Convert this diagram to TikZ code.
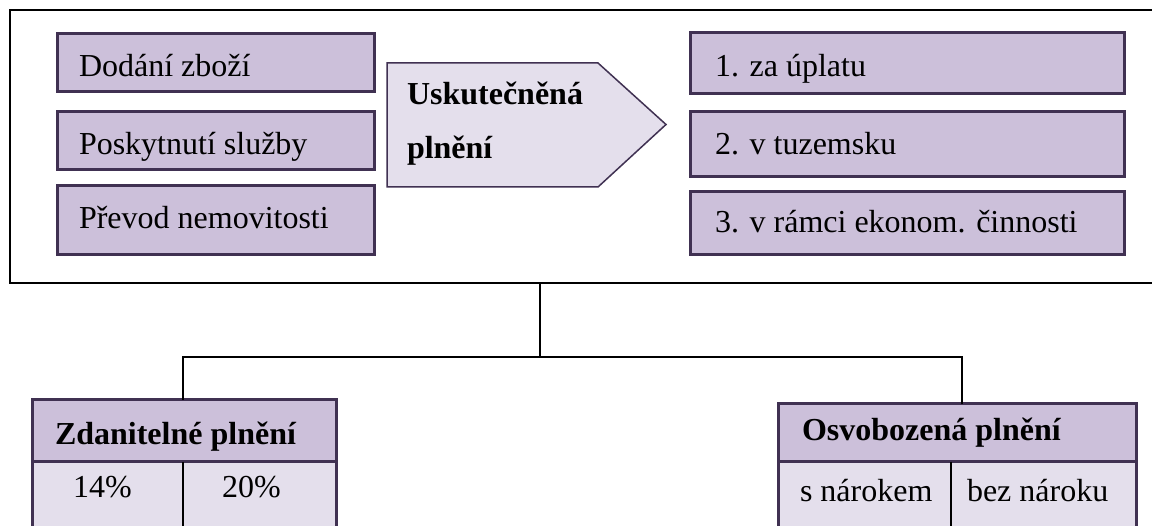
\documentclass[tikz,border=0pt]{standalone}
\usepackage{fontspec}
\setmainfont{Liberation Serif}
\definecolor{lav}{HTML}{CCC0DA}
\definecolor{lavlight}{HTML}{E4DFEC}
\definecolor{dpurple}{HTML}{403152}
\begin{document}
\begin{tikzpicture}[x=1pt,y=-1pt,
  every node/.style={inner sep=0pt, outer sep=0pt},
  txt/.style={font=\fontsize{32}{38}\selectfont, anchor=base west, text=black},
  btxt/.style={font=\fontsize{32}{38}\selectfont\bfseries, anchor=base west, text=black},
  itembox/.style={rectangle, draw=dpurple, fill=lav, line width=3pt},
  headbox/.style={rectangle, draw=dpurple, fill=lav, line width=3pt},
  bodybox/.style={rectangle, draw=dpurple, fill=lavlight, line width=3pt},
  arrowbox/.style={draw=dpurple, fill=lavlight, line width=1.5pt, line join=miter},
  framebox/.style={rectangle, draw=black, line width=2pt},
  conn/.style={draw=black, line width=2pt},
  divider/.style={draw=black, line width=1.5pt}]
\useasboundingbox (0,0) rectangle (1152,526);
\clip (0,0) rectangle (1152,526);
\fill[white] (0,0) rectangle (1152,526);

% outer frame (right edge lies beyond the picture)
\node[framebox, minimum width=1170pt, minimum height=273pt] (frame) at (595,146.5) {};

% left item boxes
\node[itembox, minimum width=317pt, minimum height=58pt] (b1) at (215.5,62.5) {};
\node[itembox, minimum width=317pt, minimum height=58pt] (b2) at (215.5,141) {};
\node[itembox, minimum width=317pt, minimum height=69pt] (b3) at (215.5,220) {};
\node[txt] (t1) at (79,77) {Dodání zboží};
\node[txt] (t2) at (79,155) {Poskytnutí služby};
\node[txt] (t3) at (79,229) {Převod nemovitosti};

% central pentagon arrow
\draw[arrowbox] (387,63) -- (598,63) -- (666,124.5) -- (598,187) -- (387,187) -- cycle;
\node[btxt] (a1) at (407,105) {Uskutečněná};
\node[btxt] (a2) at (407,159) {plnění};

% right condition boxes
\node[itembox, minimum width=434pt, minimum height=61pt] (r1) at (907,63.5) {};
\node[itembox, minimum width=434pt, minimum height=65pt] (r2) at (907,144.5) {};
\node[itembox, minimum width=434pt, minimum height=63pt] (r3) at (907,223.5) {};
\node[txt] (rt1) at (715,77) {1. za úplatu};
\node[txt] (rt2) at (715,155) {2. v tuzemsku};
\node[txt] (rt3) at (715,233) {3. v rámci ekonom. činnosti};

% left table
\node[bodybox, minimum width=304pt, minimum height=100pt] (lb) at (184,512) {};
\node[headbox, minimum width=304pt, minimum height=62pt] (lh) at (184,431) {};
\draw[divider] (lh.south) ++(-1,0) coordinate (ld1) -- (ld1 |- lb.south);
\node[btxt] (lht) at (55,445) {Zdanitelné plnění};
\node[txt] (l14) at (73,498) {14\%};
\node[txt] (l20) at (222,498) {20\%};

% right table
\node[bodybox, minimum width=358pt, minimum height=100pt] (rb) at (957,512) {};
\node[headbox, minimum width=358pt, minimum height=58pt] (rh) at (957,433) {};
\coordinate (rd1) at (951,462);
\draw[divider] (rd1) -- (rd1 |- rb.south);
\node[btxt] (rht) at (802,441) {Osvobozená plnění};
\node[txt] (rs1) at (800,502) {s nárokem};
\node[txt] (rs2) at (967,502) {bez nároku};

% connectors
\coordinate (fb) at (540,283);
\coordinate (hub) at (540,357);
\draw[conn] (fb) -- (hub);
\draw[conn] ([xshift=-1pt]lh.north) |- (hub) -| ([xshift=5pt]rh.north);
\end{tikzpicture}
\end{document}
